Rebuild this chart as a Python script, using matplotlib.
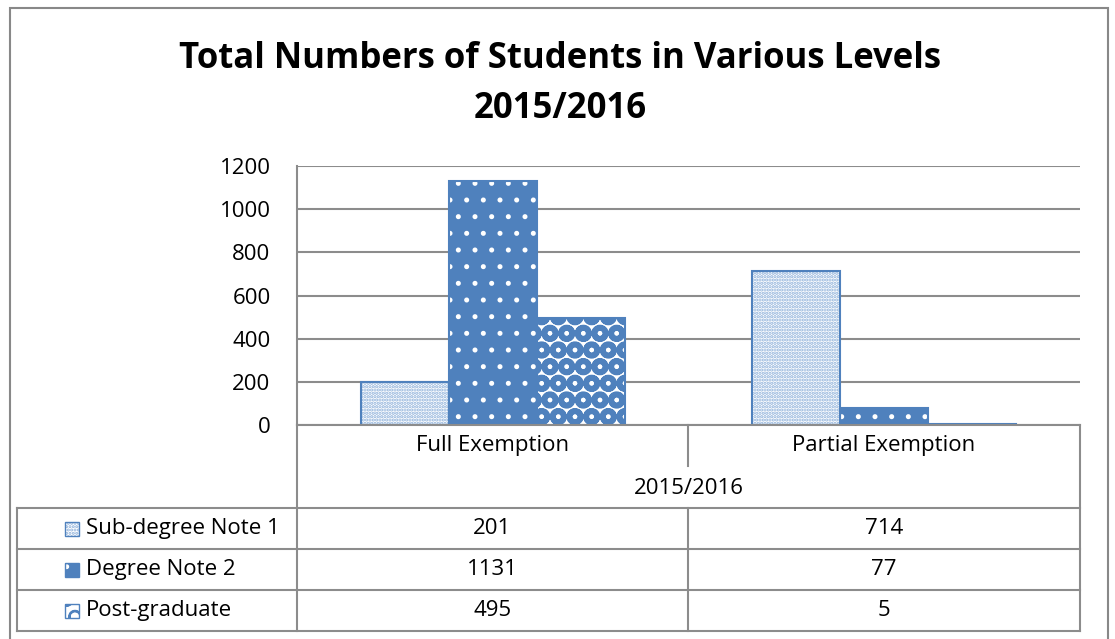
import matplotlib
matplotlib.use("Agg")
import matplotlib.pyplot as plt
from matplotlib.patches import Rectangle
from matplotlib.lines import Line2D
import numpy as np

categories = ["Full Exemption", "Partial Exemption"]
group_label = "2015/2016"
series_names = ["Sub-degree Note 1", "Degree Note 2", "Post-graduate"]
sub_degree = [201, 714]
degree = [1131, 77]
post_graduate = [495, 5]
yticks = [0, 200, 400, 600, 800, 1000, 1200]
title = "Total Numbers of Students in Various Levels\n2015/2016"

series = [sub_degree, degree, post_graduate]
BLUE = "#4F81BD"
GRID = "#8C8C8C"
FONT = "Open Sans"
FS = 16
plt.rcParams["font.family"] = [FONT, "DejaVu Sans"]

W, H = 1115, 639
fig = plt.figure(figsize=(W / 100, H / 100), dpi=100)

def fx(px):
    return px / W

def fy(py):
    return 1 - py / H

# outer frame
fig.add_artist(Rectangle((fx(10), fy(660)), fx(1108) - fx(10), fy(8) - fy(660),
                         transform=fig.transFigure, fill=False, ec="#888888", lw=1.5))

fig.text(fx(560), fy(84), title, ha="center", va="center", fontsize=25,
         fontweight="bold", linespacing=1.55)

ax = fig.add_axes([fx(297), fy(425), fx(1080) - fx(297), fy(166) - fy(425)])
ax.set_xlim(0, len(categories))
ax.set_ylim(0, 1200)
ax.set_yticks(yticks)
ax.set_yticklabels([str(t) for t in yticks], fontsize=FS)
ax.tick_params(axis="y", length=0, pad=19)
ax.set_xticks([])
for s in ["top", "right", "bottom"]:
    ax.spines[s].set_visible(False)
ax.spines["left"].set_color(GRID)
ax.spines["left"].set_linewidth(1.5)
ax.yaxis.grid(True, color=GRID, lw=1.5)
ax.set_axisbelow(True)

styles = [
    dict(fc="white", hatch_c="#8DB0DA", hatch=".....", hlw=1.6),
    dict(fc=BLUE, hatch_c="white", hatch=".", hlw=1.2),
    dict(fc="white", hatch_c=BLUE, hatch="O", hlw=4.0),
]
bw = 0.225
x = np.arange(len(categories)) + 0.5
for i, (vals, st) in enumerate(zip(series, styles)):
    pos = x + (i - 1) * bw
    plt.rcParams["hatch.linewidth"] = st["hlw"]
    ax.bar(pos, vals, bw, color=st["fc"], edgecolor=st["hatch_c"], hatch=st["hatch"], lw=0, zorder=2)
    ax.bar(pos, vals, bw, fill=False, edgecolor=BLUE, lw=1.5, zorder=3)

# table
def hline(y, x0, x1):
    fig.add_artist(Line2D([fx(x0), fx(x1)], [fy(y), fy(y)], transform=fig.transFigure, color=GRID, lw=1.5))

def vline(xp, y0, y1):
    fig.add_artist(Line2D([fx(xp), fx(xp)], [fy(y0), fy(y1)], transform=fig.transFigure, color=GRID, lw=1.5))

tleft, aleft, tright = 17, 297, 1080
mid = 688
rows_y = [508, 549, 590, 631]
hline(425, aleft, tright)
for ry in rows_y:
    hline(ry, tleft, tright)
vline(aleft, 425, 631)
vline(tright, 425, 631)
vline(tleft, 508, 631)
vline(mid, 425, 466)
vline(mid, 508, 631)

cx = [(aleft + mid) / 2, (mid + tright) / 2]
for c, name in zip(cx, categories):
    fig.text(fx(c), fy(445), name, ha="center", va="center", fontsize=FS)
fig.text(fx((aleft + tright) / 2), fy(488), group_label, ha="center", va="center", fontsize=FS)

for r, (name, vals, st) in enumerate(zip(series_names, series, styles)):
    yc = (rows_y[r] + rows_y[r + 1]) / 2
    sw = 14
    plt.rcParams["hatch.linewidth"] = min(st["hlw"], 1.5)
    fig.add_artist(Rectangle((fx(65), fy(yc + sw / 2)), fx(sw), fy(0) - fy(sw),
                             transform=fig.transFigure, fc=st["fc"], ec=st["hatch_c"],
                             hatch=st["hatch"], lw=0))
    fig.add_artist(Rectangle((fx(65), fy(yc + sw / 2)), fx(sw), fy(0) - fy(sw),
                             transform=fig.transFigure, fill=False, ec=BLUE, lw=1))
    fig.text(fx(86), fy(yc), name, ha="left", va="center", fontsize=FS)
    for c, v in zip(cx, vals):
        fig.text(fx(c), fy(yc), str(v), ha="center", va="center", fontsize=FS)

fig.savefig("out.png", dpi=100, facecolor="white")
